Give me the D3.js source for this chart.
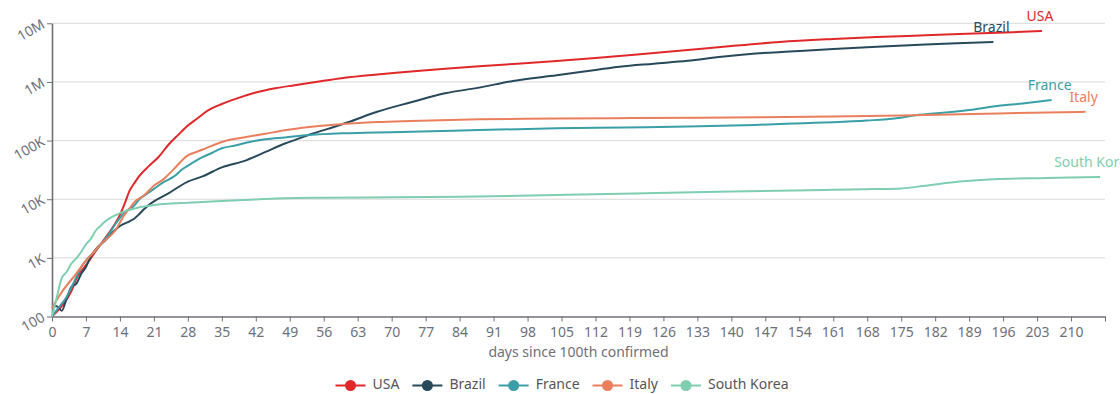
<!DOCTYPE html>
<html>
<head>
<meta charset="utf-8">
<script src="https://cdn.jsdelivr.net/npm/d3@7"></script>
<style>
  html, body { margin: 0; padding: 0; background: #fff; }
  svg { display: block; font-family: "Noto Sans", "Open Sans", sans-serif; }
</style>
</head>
<body>
<svg id="chart" width="1120" height="394"></svg>
<script>
// ---------- data ----------
const seriesNames = ["USA", "Brazil", "France", "Italy", "South Korea"];
const seriesColors = ["#e0282a", "#28495a", "#3a9fa7", "#ea7f5e", "#7fceb0"];

const usaDays   = [0,2,4,5,7,9,11,13,14,15,16,17,18,20,22,24,26,28,30,32,35,38,42,46,50,55,60,67,74,81,88,95,104,112,120,131,140,150,161,170,180,190,198,204];
const usaCases  = [100,150,270,440,750,1300,2200,3800,5400,8500,14000,19000,25000,37000,53000,85000,125000,180000,240000,320000,420000,520000,660000,780000,880000,1020000,1170000,1340000,1500000,1680000,1850000,2020000,2270000,2550000,2900000,3500000,4100000,4800000,5400000,5850000,6250000,6700000,7050000,7400000];

const brazilDays  = [0,1,2,3,4,5,6,7,8,9,11,13,14,16,17,18,19,20,21,24,28,31,35,40,44,48,50,53,57,61,67,74,81,88,95,104,112,117,124,131,138,145,152,161,170,180,188,194];
const brazilCases = [150,150,125,200,320,360,530,700,1050,1400,2000,3000,3500,4200,4700,5600,6800,8000,9200,12600,20000,24500,35000,46000,64000,89000,102000,126000,160000,205000,310000,450000,640000,800000,1040000,1300000,1600000,1820000,2050000,2300000,2700000,3050000,3300000,3650000,4000000,4350000,4600000,4800000];

const franceDays  = [0,1,3,5,6,7,9,11,12,13,15,17,18,19,21,23,25,27,29,31,33,35,38,40,44,48,53,60,67,74,88,104,118,131,145,155,161,168,174,178,184,190,194,200,206];
const franceCases = [100,130,215,470,690,900,1350,2100,2750,3700,6000,7900,10000,11500,15000,19500,24000,33000,42000,52000,62000,74000,83000,92000,105000,113000,124000,133000,138000,141000,151000,162000,167000,173000,185000,198000,206000,220000,240000,270000,300000,340000,380000,430000,490000];

const italyDays  = [0,2,5,7,8,10,13,15,16,17,19,21,23,25,28,30,32,36,40,44,48,53,60,67,74,88,104,120,140,161,175,185,195,205,213];
const italyCases = [140,260,540,900,1100,1700,2900,5500,7000,9000,11700,17000,22000,32000,56000,65000,76000,100000,115000,131000,150000,170000,192000,207000,216000,230000,237000,242000,248000,258000,268000,278000,290000,300000,310000];

const koreaDays  = [0,1,2,3,4,5,6,7,8,9,10,11,12,13,14,16,18,21,24,28,35,42,48,56,70,84,104,120,140,161,170,175,180,187,194,205,216];
const koreaCases = [100,215,450,575,800,980,1260,1700,2100,2900,3500,4200,4800,5300,5800,6600,7300,8000,8400,8700,9300,9900,10400,10600,10800,11000,11800,12500,13500,14500,14900,15300,17000,20000,22000,23000,24000];

const xTickValues = d3.range(0, 211, 7);
const xMax = 217;
const yTickValues = [100, 1000, 10000, 100000, 1000000, 10000000];
const yTickLabels = ["100", "1K", "10K", "100K", "1M", "10M"];
const xAxisTitle = "days since 100th confirmed";

const seriesDays = [usaDays, brazilDays, franceDays, italyDays, koreaDays];
const seriesCases = [usaCases, brazilCases, franceCases, italyCases, koreaCases];

// ---------- layout ----------
const svg = d3.select("#chart");
const plotL = 52, plotR = 1105, plotT = 23.3, plotB = 316.5;

const x = d3.scaleLinear().domain([0, xMax]).range([plotL, plotR]);
const y = d3.scaleLog().domain([100, 1e7]).range([plotB, plotT]);

// grid lines
svg.append("g").selectAll("line")
  .data(yTickValues.slice(1))
  .join("line")
  .attr("x1", plotL).attr("x2", plotR)
  .attr("y1", d => y(d)).attr("y2", d => y(d))
  .attr("stroke", "#d9d9d9").attr("stroke-width", 1);

// x axis
const xAxis = d3.axisBottom(x)
  .tickValues(xTickValues.concat([xMax]))
  .tickFormat(d => d === xMax ? "" : d)
  .tickSize(5).tickSizeOuter(0);
const gx = svg.append("g").attr("transform", `translate(0,${plotB})`).call(xAxis);
gx.select(".domain").attr("stroke", "#6e7079").attr("stroke-width", 1.3);
gx.selectAll(".tick line").attr("stroke", "#6e7079");
gx.selectAll(".tick text").attr("fill", "#6e7079").attr("font-size", 14).attr("dy", "0.9em")
  .attr("font-family", "Noto Sans, sans-serif");

// y axis
const yAxis = d3.axisLeft(y)
  .tickValues(yTickValues)
  .tickFormat((d, i) => yTickLabels[i])
  .tickSize(5).tickSizeOuter(0);
const gy = svg.append("g").attr("transform", `translate(${plotL},0)`).call(yAxis);
gy.select(".domain").attr("stroke", "#6e7079").attr("stroke-width", 1.6);
gy.selectAll(".tick line").attr("stroke", "#6e7079");
gy.selectAll(".tick text")
  .attr("fill", "#6e7079").attr("font-size", 14)
  .attr("font-family", "Noto Sans, sans-serif")
  .attr("x", null).attr("dy", null)
  .attr("text-anchor", "end")
  .attr("dominant-baseline", "middle")
  .attr("transform", "translate(-8,0) rotate(-30)");

// axis title
svg.append("text")
  .attr("x", (plotL + plotR) / 2).attr("y", 357)
  .attr("text-anchor", "middle")
  .attr("fill", "#6e7079").attr("font-size", 14)
  .text(xAxisTitle);

// lines
const line = d3.line()
  .x(d => x(d[0])).y(d => y(d[1]))
  .curve(d3.curveMonotoneX);

seriesNames.forEach((name, i) => {
  const pts = seriesDays[i].map((d, j) => [d, seriesCases[i][j]]);
  svg.append("path")
    .datum(pts)
    .attr("d", line)
    .attr("fill", "none")
    .attr("stroke", seriesColors[i])
    .attr("stroke-width", 2)
    .attr("stroke-linejoin", "round");
});

// end labels
seriesNames.forEach((name, i) => {
  const n = seriesDays[i].length - 1;
  const ex = x(seriesDays[i][n]), ey = y(seriesCases[i][n]);
  svg.append("text")
    .attr("x", ex - 2).attr("y", ey - 14)
    .attr("text-anchor", name === "South Korea" ? "start" : "middle")
    .attr("dx", name === "South Korea" ? -44 : 0)
    .attr("dominant-baseline", "middle")
    .attr("fill", seriesColors[i]).attr("font-size", 14)
    .text(name);
});

// legend
const legend = svg.append("g");
let cx = 0;
seriesNames.forEach((name, i) => {
  const g = legend.append("g").attr("transform", `translate(${cx},0)`);
  g.append("line").attr("x1", 0).attr("x2", 30).attr("y1", 0).attr("y2", 0)
    .attr("stroke", seriesColors[i]).attr("stroke-width", 2);
  g.append("circle").attr("cx", 15).attr("cy", 0).attr("r", 5.5)
    .attr("fill", seriesColors[i]);
  const t = g.append("text").attr("x", 37).attr("y", 0)
    .attr("dominant-baseline", "middle")
    .attr("fill", "#555").attr("font-size", 14).text(name);
  const w = t.node().getComputedTextLength();
  cx += 37 + w + 13;
});
const totalW = cx - 13;
legend.attr("transform", `translate(${562 - totalW / 2},385.5)`);
</script>
</body>
</html>
